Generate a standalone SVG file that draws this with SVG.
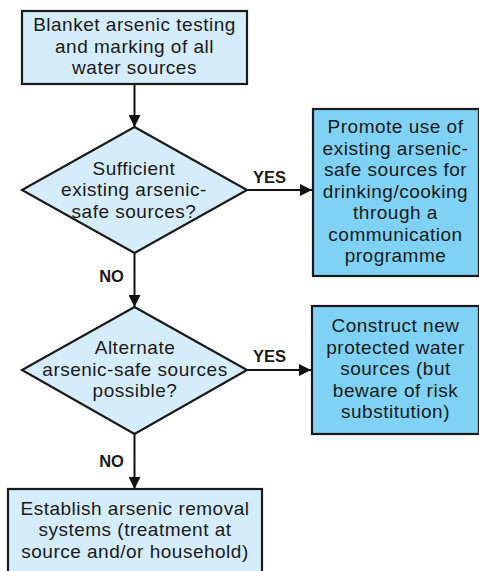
<svg xmlns="http://www.w3.org/2000/svg" width="479" height="571" viewBox="0 0 479 571">
<defs>
<style>
.box{stroke:#1a1a1a;stroke-width:2.2}
.light{fill:#d5ecfa}
.dark{fill:#80d2f4}
.t{font-family:"Liberation Sans",Arial,sans-serif;font-size:19px;letter-spacing:0.5px;fill:#1a1a1a;text-anchor:middle}
.lbl{font-family:"Liberation Sans",Arial,sans-serif;font-size:16.5px;font-weight:bold;fill:#1a1a1a;text-anchor:middle}
.c{stroke:#111;stroke-width:2;fill:none}
</style>
<marker id="ah" viewBox="0 0 10 10" refX="10" refY="5" markerWidth="12" markerHeight="12" markerUnits="userSpaceOnUse" orient="auto">
<path d="M0,0 L10,5 L0,10 z" fill="#111"/>
</marker>
</defs>
<rect width="479" height="571" fill="#fff"/>
<g id="connectors">
<line class="c" x1="134.5" y1="84" x2="134.5" y2="127" marker-end="url(#ah)"/>
<line class="c" x1="247" y1="190" x2="312" y2="190" marker-end="url(#ah)"/>
<line class="c" x1="134.5" y1="253" x2="134.5" y2="307" marker-end="url(#ah)"/>
<line class="c" x1="247" y1="370" x2="311" y2="370" marker-end="url(#ah)"/>
<line class="c" x1="134.5" y1="434" x2="134.5" y2="489" marker-end="url(#ah)"/>
<text class="lbl" x="269.5" y="183">YES</text>
<text class="lbl" x="111.5" y="282">NO</text>
<text class="lbl" x="269.5" y="362">YES</text>
<text class="lbl" x="111.5" y="467">NO</text>
</g>
<g id="start">
<rect class="box light" x="22" y="11" width="225" height="73"/>
<text class="t" x="134.5" y="31">Blanket arsenic testing</text>
<text class="t" x="134.5" y="52.5">and marking of all</text>
<text class="t" x="134.5" y="74">water sources</text>
</g>
<g id="decision1">
<polygon class="box light" points="134.5,127 247,190 134.5,253 22,190"/>
<text class="t" x="134" y="174.5">Sufficient</text>
<text class="t" x="134" y="196">existing arsenic-</text>
<text class="t" x="134" y="217.5">safe sources?</text>
</g>
<g id="promote">
<rect class="box dark" x="313" y="109" width="166" height="167"/>
<text class="t" x="395.5" y="133">Promote use of</text>
<text class="t" x="395.5" y="154.5">existing arsenic-</text>
<text class="t" x="395.5" y="176">safe sources for</text>
<text class="t" x="395.5" y="197.5">drinking/cooking</text>
<text class="t" x="395.5" y="219">through a</text>
<text class="t" x="395.5" y="240.5">communication</text>
<text class="t" x="395.5" y="262">programme</text>
</g>
<g id="decision2">
<polygon class="box light" points="134.5,307 247,370 134.5,434 22,370"/>
<text class="t" x="135" y="354">Alternate</text>
<text class="t" x="135" y="375.5">arsenic-safe sources</text>
<text class="t" x="135" y="397">possible?</text>
</g>
<g id="construct">
<rect class="box dark" x="312" y="306" width="167" height="128"/>
<text class="t" x="395.5" y="332">Construct new</text>
<text class="t" x="395.5" y="353.5">protected water</text>
<text class="t" x="395.5" y="375">sources (but</text>
<text class="t" x="395.5" y="396.5">beware of risk</text>
<text class="t" x="395.5" y="418">substitution)</text>
</g>
<g id="removal">
<rect class="box light" x="8" y="489" width="254" height="95"/>
<text class="t" x="135" y="514.5">Establish arsenic removal</text>
<text class="t" x="135" y="536">systems (treatment at</text>
<text class="t" x="135" y="557.5">source and/or household)</text>
</g>
</svg>
